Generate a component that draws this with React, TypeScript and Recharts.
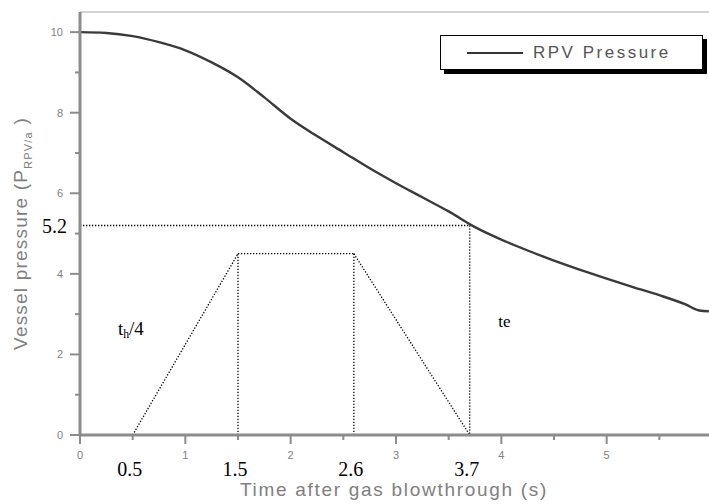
import React from "react";
import {
  LineChart,
  Line,
  XAxis,
  YAxis,
  ReferenceLine,
  ReferenceDot,
  Legend,
} from "recharts";

// RPV pressure decay after gas blowthrough
const times = [
  0, 0.25, 0.5, 0.75, 1, 1.25, 1.5, 1.75, 2, 2.25, 2.5, 2.75, 3, 3.25, 3.5,
  3.75, 4, 4.25, 4.5, 4.75, 5, 5.25, 5.5, 5.75, 5.88, 5.97,
];
const pressures = [
  10.0, 9.98, 9.9, 9.75, 9.55, 9.25, 8.88, 8.38, 7.85, 7.42, 7.02, 6.62, 6.25,
  5.9, 5.55, 5.16, 4.85, 4.58, 4.33, 4.1, 3.88, 3.67, 3.47, 3.24, 3.09, 3.07,
];

const timeTicks = [0, 0.5, 1, 1.5, 2, 2.5, 3, 3.5, 4, 4.5, 5, 5.5, 6];
const pressureTicks = [0, 1, 2, 3, 4, 5, 6, 7, 8, 9, 10];

// trapezoid profile: 0.5 -> 1.5 ramp up, hold to 2.6, ramp down to 3.7
const trapezoidTimes = [0.5, 1.5, 2.6, 3.7];
const trapezoidLevels = [0, 4.5, 4.5, 0];
const cutoffTime = 3.7;
const cutoffPressure = 5.2;

const curve = times.map((t, i) => ({ t, p: pressures[i] }));

const SANS = "'Liberation Sans', Arial, sans-serif";
const SERIF = "'Liberation Serif', 'Times New Roman', serif";
const AXIS_GRAY = "#8c8c8c";
const TEXT_GRAY = "#808080";
const DOTS = { stroke: "#000", strokeWidth: 1.3, strokeDasharray: "1.3 1.7" };

function PressureTick({ x, y, payload }: any) {
  const v = payload.value;
  const major = v % 2 === 0;
  return (
    <g>
      <line x1={x - (major ? 10 : 5)} x2={x} y1={y} y2={y} stroke={AXIS_GRAY} strokeWidth={2} />
      {major && (
        <text x={x - 17} y={y + 4} textAnchor="end" fontSize={11} fontFamily={SANS} fill={TEXT_GRAY}>
          {v}
        </text>
      )}
    </g>
  );
}

function TimeTick({ x, y, payload }: any) {
  const v = payload.value;
  const major = Number.isInteger(v);
  return (
    <g>
      <line x1={x} x2={x} y1={y} y2={y + (major ? 9 : 5)} stroke={AXIS_GRAY} strokeWidth={2} />
      {major && (
        <text x={x} y={y + 24} textAnchor="middle" fontSize={11} fontFamily={SANS} fill={TEXT_GRAY}>
          {v}
        </text>
      )}
    </g>
  );
}

function MarkLabel({ viewBox, value }: any) {
  return (
    <text
      x={viewBox.x - 3}
      y={viewBox.y + 41}
      textAnchor="middle"
      fontSize={20}
      fontFamily={SERIF}
      fill="#000"
    >
      {value}
    </text>
  );
}

function YTitle({ viewBox }: any) {
  const cx = viewBox.x + 27;
  const cy = viewBox.y + viewBox.height / 2 + 10;
  return (
    <text
      x={cx}
      y={cy}
      transform={`rotate(-90, ${cx}, ${cy})`}
      textAnchor="middle"
      fontSize={19}
      letterSpacing={1.2}
      fontFamily={SANS}
      fill={TEXT_GRAY}
    >
      Vessel pressure (P
      <tspan fontSize={11} dy={5}>RPV/a</tspan>
      <tspan dy={-5}> )</tspan>
    </text>
  );
}

function XTitle({ viewBox }: any) {
  return (
    <text
      x={viewBox.x + viewBox.width / 2 - 2}
      y={viewBox.y + 61}
      textAnchor="middle"
      fontSize={19}
      letterSpacing={1.7}
      fontFamily={SANS}
      fill={TEXT_GRAY}
    >
      Time after gas blowthrough (s)
    </text>
  );
}

function PhaseLabel({ viewBox, main, sub, tail, size }: any) {
  return (
    <text x={viewBox.x} y={viewBox.y} fontSize={size} fontFamily={SERIF} fill="#000">
      {main}
      {sub && (
        <tspan fontSize={size * 0.62} dy={3}>
          {sub}
        </tspan>
      )}
      {tail && <tspan dy={sub ? -3 : 0}>{tail}</tspan>}
    </text>
  );
}

function LegendBox({ payload }: any) {
  const name = payload && payload[0] ? payload[0].value : "RPV Pressure";
  return (
    <div
      style={{
        boxSizing: "border-box",
        width: 263,
        height: 35,
        border: "1px solid #000",
        boxShadow: "4px 4px 0 #000",
        background: "#fff",
        display: "flex",
        alignItems: "center",
        paddingLeft: 26,
      }}
    >
      <span style={{ display: "inline-block", width: 56, height: 2, background: "#333" }} />
      <span
        style={{
          marginLeft: 10,
          fontFamily: SANS,
          fontSize: 17,
          letterSpacing: 2.5,
          color: "#555",
          lineHeight: "17px",
        }}
      >
        {name}
      </span>
    </div>
  );
}

export default function App() {
  const trapezoidSegments = trapezoidTimes.slice(1).map((t, i) => [
    { x: trapezoidTimes[i], y: trapezoidLevels[i] },
    { x: t, y: trapezoidLevels[i + 1] },
  ]);
  const plateauDrops = trapezoidTimes
    .map((t, i) => ({ t, level: trapezoidLevels[i] }))
    .filter((d) => d.level > 0)
    .map((d) => [
      { x: d.t, y: d.level },
      { x: d.t, y: 0 },
    ]);

  return (
    <div
      style={{
        position: "fixed",
        left: 0,
        top: 0,
        width: 709,
        height: 504,
        overflow: "hidden",
        background: "#fff",
      }}
    >
      <LineChart width={740} height={504} data={curve} margin={{ top: 12, right: 28, bottom: 0, left: 0 }}>
        <XAxis
          dataKey="t"
          type="number"
          domain={[0, 6]}
          ticks={timeTicks}
          interval={0}
          tickSize={0}
          tickMargin={0}
          tickLine={false}
          tick={<TimeTick />}
          height={69}
          axisLine={{ stroke: AXIS_GRAY, strokeWidth: 3 }}
          label={{ content: <XTitle /> }}
          allowDataOverflow
        />
        <YAxis
          type="number"
          domain={[0, 10.5]}
          ticks={pressureTicks}
          interval={0}
          width={80}
          tickSize={0}
          tickMargin={0}
          tickLine={false}
          tick={<PressureTick />}
          axisLine={{ stroke: AXIS_GRAY, strokeWidth: 3 }}
          label={{ content: <YTitle /> }}
          allowDataOverflow
        />
        <Legend
          layout="horizontal"
          verticalAlign="middle"
          align="center"
          width={270}
          wrapperStyle={{ left: 440, top: 35, width: 270, height: 40 }}
          content={<LegendBox />}
        />

        {/* frame top edge */}
        <ReferenceLine y={10.5} stroke="#c4c4c4" strokeWidth={1.5} ifOverflow="visible" />

        {/* pressure at the end of the hold */}
        <ReferenceLine
          segment={[
            { x: 0, y: cutoffPressure },
            { x: cutoffTime, y: cutoffPressure },
          ]}
          {...DOTS}
          ifOverflow="visible"
          label={{
            value: cutoffPressure,
            position: "left",
            offset: 13,
            fontSize: 20,
            fontFamily: SERIF,
            fill: "#000",
          }}
        />
        <ReferenceLine
          segment={[
            { x: cutoffTime, y: cutoffPressure },
            { x: cutoffTime, y: 0 },
          ]}
          {...DOTS}
          ifOverflow="visible"
        />
        {trapezoidSegments.map((seg, i) => (
          <ReferenceLine key={`trap-${i}`} segment={seg} {...DOTS} ifOverflow="visible" />
        ))}
        {plateauDrops.map((seg, i) => (
          <ReferenceLine key={`drop-${i}`} segment={seg} {...DOTS} ifOverflow="visible" />
        ))}

        {/* breakpoint times written under the axis */}
        {trapezoidTimes.map((t) => (
          <ReferenceDot
            key={`mark-${t}`}
            x={t}
            y={0}
            r={0}
            fill="none"
            stroke="none"
            ifOverflow="visible"
            label={{ content: <MarkLabel value={t} /> }}
          />
        ))}

        <ReferenceDot
          x={0.36}
          y={2.48}
          r={0}
          fill="none"
          stroke="none"
          ifOverflow="visible"
          label={{ content: <PhaseLabel main="t" sub="h" tail="/4" size={19} /> }}
        />
        <ReferenceDot
          x={3.97}
          y={2.68}
          r={0}
          fill="none"
          stroke="none"
          ifOverflow="visible"
          label={{ content: <PhaseLabel main="t" tail="e" size={17} /> }}
        />

        <Line
          type="monotone"
          dataKey="p"
          name="RPV Pressure"
          stroke="#3a3a3a"
          strokeWidth={2.4}
          dot={false}
          isAnimationActive={false}
        />
      </LineChart>
    </div>
  );
}
